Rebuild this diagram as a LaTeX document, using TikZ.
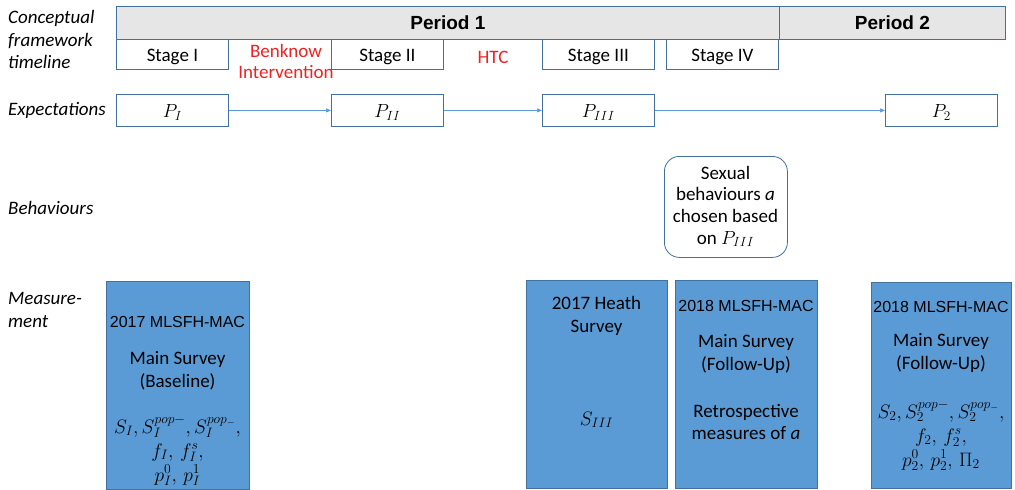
\RequirePackage{fix-cm}
\documentclass[tikz,border=0pt]{standalone}
\usepackage{fontspec}
\setmainfont{Carlito}
\newfontfamily\arialfont{Liberation Sans}
\usetikzlibrary{arrows.meta}
\definecolor{bfill}{HTML}{5B9BD5}
\definecolor{bdraw}{HTML}{41719C}
\definecolor{gfill}{HTML}{E7E6E6}
\definecolor{myred}{HTML}{EE2222}
\begin{document}
\begin{tikzpicture}[x=1pt,y=-1pt,font=\fontsize{19}{23}\selectfont,
  box/.style={draw=bdraw,line width=0.8pt,inner sep=0pt,anchor=north west},
  period/.style={box,fill=gfill,minimum height=33pt,text height=13pt,text depth=0pt,font=\arialfont\bfseries\fontsize{19}{23}\selectfont},
  stagebox/.style={box,minimum width=112pt,minimum height=30pt,text height=15pt,text depth=0pt},
  pbox/.style={box,minimum width=112pt,minimum height=32pt,text height=14pt,text depth=0pt},
  meas/.style={box,fill=bfill,minimum height=208pt},
  lbl/.style={anchor=base west,inner sep=0pt,font=\itshape\fontsize{19}{23}\selectfont},
  txt/.style={anchor=base,inner sep=0pt},
  mth/.style={txt,font=\fontsize{19.5}{24}\selectfont},
  ar/.style={txt,font=\arialfont\fontsize{16}{20}\selectfont},
  redtxt/.style={txt,text=myred},
  arr/.style={-{Triangle[length=5pt,width=4pt]},draw=bfill,line width=0.7pt}]
\useasboundingbox (0,0) rectangle (1015,490);

% left labels
\node[lbl] (l1) at (8,23) {Conceptual};
\node[lbl] (l2) at (8,46) {framework};
\node[lbl] (l3) at (8,68) {timeline};
\node[lbl] (l4) at (8,115) {Expectations};
\node[lbl] (l5) at (8,214) {Behaviours};
\node[lbl] (l6) at (8,304) {Measure-};
\node[lbl] (l7) at (8,327) {ment};

% periods
\node[period,minimum width=663pt] (per1) at (116,6) {Period 1};
\node[period,minimum width=226pt] (per2) at (779,6) {Period 2};

% stages
\node[stagebox] (s1) at (116,39) {Stage I};
\node[stagebox] (s2) at (331,39) {Stage II};
\node[stagebox] (s3) at (542,39) {Stage III};
\node[stagebox] (s4) at (666,39) {Stage IV};
\node[redtxt] (bk1) at (286,57) {Benknow};
\node[redtxt] (bk2) at (286,78) {Intervention};
\node[redtxt] (htc) at (493,63) {HTC};

% expectations
\node[pbox] (pI) at (116,94) {$P_I$};
\node[pbox] (pII) at (331,94) {$P_{II}$};
\node[pbox] (pIII) at (542,94) {$P_{III}$};
\node[pbox] (p2) at (885,94) {$P_2$};
\draw[arr] (pI) -- (pII);
\draw[arr] (pII) -- (pIII);
\draw[arr] (pIII) -- (p2);

% behaviours
\node[box,rounded corners=15pt,minimum width=123pt,minimum height=101pt] (beh) at (664,156) {};
\node[txt] (b1) at (725.5,179) {Sexual};
\node[txt] (b2) at (725.5,200) {behaviours \textit{a}};
\node[txt] (b3) at (725.5,222) {chosen based};
\node[txt] (b4) at (725.5,244) {on $P_{III}$};

% measurement
\node[meas,minimum width=143pt] (m1) at (106,281) {};
\node[meas,minimum width=141pt] (m2) at (526,280) {};
\node[meas,minimum width=142pt] (m3) at (675,280) {};
\node[meas,minimum width=140pt,minimum height=206pt] (m4) at (871,282) {};

\node[ar] (m1a) at (177.5,327) {2017 MLSFH-MAC};
\node[txt] (m1b) at (177.5,364) {Main Survey};
\node[txt] (m1c) at (177.5,387) {(Baseline)};
\node[mth] (m1d) at (177.5,433) {$S_I, S_I^{pop-}, S_I^{pop_-},$};
\node[mth] (m1e) at (177.5,457) {$f_I,\, f_I^s,$};
\node[mth] (m1f) at (177.5,481) {$p_I^0,\, p_I^1$};

\node[txt] (m2a) at (596.5,309) {2017 Heath};
\node[txt] (m2b) at (596.5,332) {Survey};
\node[mth] (m2c) at (596.5,425) {$S_{III}$};

\node[ar] (m3a) at (746,311) {2018 MLSFH-MAC};
\node[txt] (m3b) at (746,347) {Main Survey};
\node[txt] (m3c) at (746,370) {(Follow-Up)};
\node[txt] (m3d) at (746,417) {Retrospective};
\node[txt] (m3e) at (746,439) {measures of \textit{a}};

\node[ar] (m4a) at (941,312) {2018 MLSFH-MAC};
\node[txt] (m4b) at (941,346) {Main Survey};
\node[txt] (m4c) at (941,369) {(Follow-Up)};
\node[mth] (m4d) at (941,418) {$S_2, S_2^{pop-}, S_2^{pop_-},$};
\node[mth] (m4e) at (941,442) {$f_2,\, f_2^s,$};
\node[mth] (m4f) at (941,466) {$p_2^0,\, p_2^1,\, \Pi_2$};
\end{tikzpicture}
\end{document}
